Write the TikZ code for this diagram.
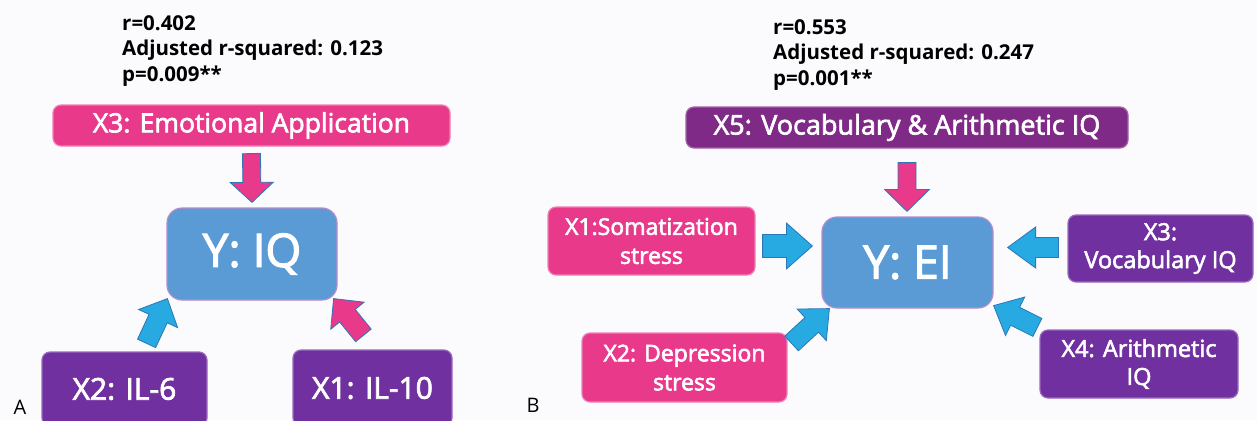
\documentclass[tikz,border=0pt]{standalone}
\usepackage{fontspec}
\setmainfont{Open Sans}
\newfontfamily\semib{Open Sans}[FakeBold=2.5]
\usetikzlibrary{calc}
\definecolor{bgc}{HTML}{FBFBFD}
\definecolor{pinkc}{HTML}{E8398B}
\definecolor{pinkd}{HTML}{F07FB5}
\definecolor{purc}{HTML}{7030A0}
\definecolor{purd}{HTML}{9A6ABE}
\definecolor{purx}{HTML}{7E2A86}
\definecolor{purxd}{HTML}{A066A6}
\definecolor{bluebox}{HTML}{5B9BD5}
\definecolor{blueboxd}{HTML}{B48CCB}
\definecolor{arrblue}{HTML}{27A9E1}
\definecolor{arrblued}{HTML}{2C77B8}
\newcommand\blockarrow[6]{% #1 style, #2 tail, #3 tip, #4 half shaft, #5 half head, #6 head length (pt)
  \coordinate (bah) at ($(#3)!#6pt!(#2)$);
  \draw[#1] ($(#2)!#4pt!90:(#3)$) -- ($(bah)!#4pt!90:(#3)$) -- ($(bah)!#5pt!90:(#3)$) -- (#3)
    -- ($(bah)!#5pt!-90:(#3)$) -- ($(bah)!#4pt!-90:(#3)$) -- ($(#2)!#4pt!-90:(#3)$) -- cycle;
}
\tikzset{
  box/.style={rounded corners=8pt, inner sep=0pt, align=center, text=white, line width=1.2pt},
  pinkbox/.style={box, fill=pinkc, draw=pinkd},
  purbox/.style={box, fill=purc, draw=purd},
  purxbox/.style={box, fill=purx, draw=purxd},
  ybox/.style={box, rounded corners=15pt, fill=bluebox, draw=blueboxd, font=\semib\fontsize{46}{54}\selectfont},
  stat/.style={anchor=north west, align=left, inner sep=0pt, font=\bfseries\fontsize{20.5}{25.5}\selectfont},
  pinkarr/.style={fill=pinkc, draw=arrblued, line width=0.8pt, line join=miter},
  bluearr/.style={fill=arrblue, draw=arrblued, line width=0.8pt, line join=miter},
  panel/.style={font=\fontsize{20}{24}\selectfont, inner sep=0pt}
}
\begin{document}
\begin{tikzpicture}[x=1pt,y=-1pt]
\fill[bgc] (0,0) rectangle (1257,420);
\useasboundingbox (0,0) rectangle (1257,420);

% ---------------- Panel A ----------------
\node[stat] (sa) at (122,15) {r=0.402\\Adjusted r-squared: 0.123\\p=0.009**};
\node[pinkbox, minimum width=397, minimum height=41, font=\semib\fontsize{26.5}{30}\selectfont] (x3a) at (251.5,125.5) {X3: Emotional Application};
\node[ybox, minimum width=170, minimum height=92] (ya) at (252,254) {Y: IQ};
\node[purbox, minimum width=165, minimum height=74, font=\semib\fontsize{30}{34}\selectfont] (x2a) at (124.5,389) {X2: IL-6};
\node[purbox, minimum width=159, minimum height=76, font=\semib\fontsize{30}{34}\selectfont] (x1a) at (372.5,388) {X1: IL-10};
\node[panel] (pa) at (20,407) {A};

\coordinate (a1t) at ($(x3a.south)+(0,7)$);
\coordinate (a1h) at ($(ya.north)+(0,-5)$);
\blockarrow{pinkarr}{a1t}{a1h}{9}{21.5}{20}
\coordinate (a2t) at ($(x2a.north east)+(-61,-8)$);
\coordinate (a2h) at ($(ya.south west)+(1,-2)$);
\blockarrow{bluearr}{a2t}{a2h}{10}{21.5}{22}
\coordinate (a3t) at ($(x1a.north west)+(71,-14)$);
\coordinate (a3h) at ($(ya.south east)+(-4,-2)$);
\blockarrow{pinkarr}{a3t}{a3h}{10}{21.5}{22}

% ---------------- Panel B ----------------
\node[stat] (sb) at (773,19) {r=0.553\\Adjusted r-squared: 0.247\\p=0.001**};
\node[purxbox, minimum width=442, minimum height=41, font=\semib\fontsize{27}{30}\selectfont] (x5b) at (907,127.5) {X5: Vocabulary \& Arithmetic IQ};
\node[ybox, minimum width=171, minimum height=91] (yb) at (907.5,262.5) {Y: EI};
\node[pinkbox, minimum width=207, minimum height=68, font=\semib\fontsize{23}{29}\selectfont] (x1b) at (651.5,241) {X1:Somatization\\stress};
\node[pinkbox, minimum width=205, minimum height=69, font=\semib\fontsize{23}{29}\selectfont] (x2b) at (684.5,367.5) {X2: Depression\\stress};
\node[purbox, minimum width=185, minimum height=67, font=\semib\fontsize{23.5}{28}\selectfont] (x3b) at (1160.5,248.5) {X3:\\Vocabulary IQ};
\node[purbox, minimum width=198, minimum height=68, font=\semib\fontsize{23.5}{28}\selectfont] (x4b) at (1139,364) {X4: Arithmetic\\IQ};
\node[panel] (pb) at (533,405) {B};

\coordinate (b1t) at ($(x5b.south)+(0,14)$);
\coordinate (b1h) at ($(yb.north)+(-0.5,-5)$);
\blockarrow{pinkarr}{b1t}{b1h}{9}{22.5}{22}
\coordinate (b2t) at ($(x1b.east)+(7,5)$);
\coordinate (b2h) at ($(yb.west)+(-9,-16.5)$);
\blockarrow{bluearr}{b2t}{b2h}{11.5}{23}{26}
\coordinate (b3t) at ($(x2b.north east)+(4,11)$);
\coordinate (b3h) at ($(yb.south west)+(8,0)$);
\blockarrow{bluearr}{b3t}{b3h}{10}{21.5}{24}
\coordinate (b4t) at ($(x3b.west)+(-9,-1)$);
\coordinate (b4h) at ($(yb.east)+(14,-15)$);
\blockarrow{bluearr}{b4t}{b4h}{10}{20.5}{28}
\coordinate (b5t) at ($(x4b.north west)+(-2,-2)$);
\coordinate (b5h) at ($(yb.south east)+(0,-3)$);
\blockarrow{bluearr}{b5t}{b5h}{10}{21.5}{24}
\end{tikzpicture}
\end{document}
